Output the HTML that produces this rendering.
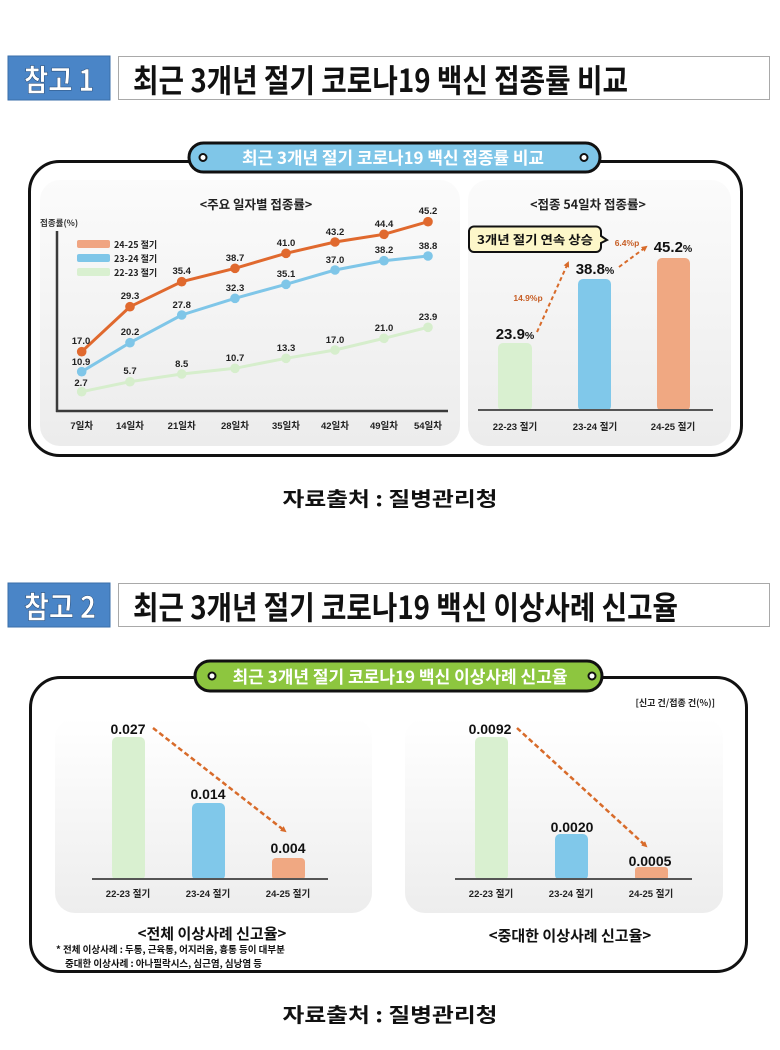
<!DOCTYPE html>
<html><head><meta charset="utf-8"><style>
html,body{margin:0;padding:0;background:#fff;}
svg{display:block;}
text{font-family:"Liberation Sans","Noto Sans CJK KR",sans-serif;}
.k{font-family:"Noto Sans CJK KR","Liberation Sans",sans-serif;}
</style></head><body>
<svg width="780" height="1050" viewBox="0 0 780 1050" xmlns="http://www.w3.org/2000/svg">
<defs>
<linearGradient id="pg" x1="0" y1="0" x2="0" y2="1">
<stop offset="0" stop-color="#fbfbfb"/><stop offset="1" stop-color="#ececec"/>
</linearGradient>
<linearGradient id="pg2" x1="0" y1="0" x2="0" y2="1">
<stop offset="0" stop-color="#ffffff"/><stop offset="1" stop-color="#ededed"/>
</linearGradient>
<marker id="ah" markerWidth="6" markerHeight="6" refX="4" refY="3" orient="auto" markerUnits="userSpaceOnUse">
<path d="M0,0 L6,3 L0,6 z" fill="#D86B2A"/>
</marker>
</defs>

<!-- ===== Section 1 header ===== -->
<rect x="8" y="56" width="102" height="44" fill="#4A85C7" stroke="#3a6ea8" stroke-width="1"/>
<text class="k" x="59" y="91" font-size="30" font-weight="bold" fill="#fff" text-anchor="middle" stroke="#2c4f7a" stroke-width="0.6" textLength="70" lengthAdjust="spacingAndGlyphs">참고 1</text>
<rect x="118.5" y="56.5" width="651" height="43" fill="#fff" stroke="#a9a9a9" stroke-width="1"/>
<text class="k" x="133" y="92" font-size="32" font-weight="bold" fill="#111" textLength="495" lengthAdjust="spacingAndGlyphs">최근 3개년 절기 코로나19 백신 접종률 비교</text>

<!-- frame 1 -->
<rect x="29.5" y="161.5" width="712" height="294" rx="30" fill="#fff" stroke="#111" stroke-width="3"/>
<rect x="40" y="180" width="420" height="266" rx="20" fill="url(#pg)"/>
<rect x="468" y="180" width="263" height="266" rx="20" fill="url(#pg)"/>

<!-- pill 1 -->
<rect x="189" y="143" width="411" height="29" rx="14.5" fill="#7FC6E8" stroke="#111" stroke-width="3"/>
<circle cx="203" cy="157.5" r="3.5" fill="#fff" stroke="#111" stroke-width="2"/>
<circle cx="584" cy="157.5" r="3.5" fill="#fff" stroke="#111" stroke-width="2"/>
<text class="k" x="393" y="164" font-size="17" font-weight="bold" fill="#fff" text-anchor="middle" textLength="302" lengthAdjust="spacingAndGlyphs">최근 3개년 절기 코로나19 백신 접종률 비교</text>

<!-- line chart -->
<text class="k" x="256" y="209" font-size="12.5" font-weight="bold" fill="#222" text-anchor="middle">&lt;주요 일자별 접종률&gt;</text>
<text class="k" x="40" y="226" font-size="8.5" font-weight="bold" fill="#333">접종률(%)</text>
<line x1="57" y1="231" x2="57" y2="412" stroke="#3a3a3a" stroke-width="2.5"/>
<line x1="56" y1="411" x2="448" y2="411" stroke="#3a3a3a" stroke-width="2.5"/>

<rect x="77" y="240" width="33" height="8" rx="2" fill="#F0A582"/>
<rect x="77" y="254" width="33" height="8" rx="2" fill="#7FC6E8"/>
<rect x="77" y="268" width="33" height="8" rx="2" fill="#D9F0D0"/>
<text class="k" x="114" y="248" font-size="9" font-weight="bold" fill="#222">24-25 절기</text>
<text class="k" x="114" y="262" font-size="9" font-weight="bold" fill="#222">23-24 절기</text>
<text class="k" x="114" y="276" font-size="9" font-weight="bold" fill="#222">22-23 절기</text>

<!-- green series -->
<polyline fill="none" stroke="#D6EECC" stroke-width="3" points="81.7,391.7 130,381.7 181.7,374 235,368.3 286,358.3 335,350 384,338.3 428,327.3"/>
<g fill="#D6EECC">
<circle cx="81.7" cy="391.7" r="4.8"/><circle cx="130" cy="381.7" r="4.8"/><circle cx="181.7" cy="374" r="4.8"/><circle cx="235" cy="368.3" r="4.8"/><circle cx="286" cy="358.3" r="4.8"/><circle cx="335" cy="350" r="4.8"/><circle cx="384" cy="338.3" r="4.8"/><circle cx="428" cy="327.3" r="4.8"/>
</g>
<!-- blue series -->
<polyline fill="none" stroke="#7FC6E8" stroke-width="3" points="81.7,371.7 130,342.7 181.7,315 235,298.3 286,284.3 335,270 384,260.7 428,256"/>
<g fill="#7FC6E8">
<circle cx="81.7" cy="371.7" r="4.8"/><circle cx="130" cy="342.7" r="4.8"/><circle cx="181.7" cy="315" r="4.8"/><circle cx="235" cy="298.3" r="4.8"/><circle cx="286" cy="284.3" r="4.8"/><circle cx="335" cy="270" r="4.8"/><circle cx="384" cy="260.7" r="4.8"/><circle cx="428" cy="256" r="4.8"/>
</g>
<!-- orange series -->
<polyline fill="none" stroke="#E0692E" stroke-width="3" points="81.7,351.7 130,306.7 181.7,281.7 235,268.3 286,253.3 335,242 384,234.3 428,221.7"/>
<g fill="#E0692E">
<circle cx="81.7" cy="351.7" r="4.8"/><circle cx="130" cy="306.7" r="4.8"/><circle cx="181.7" cy="281.7" r="4.8"/><circle cx="235" cy="268.3" r="4.8"/><circle cx="286" cy="253.3" r="4.8"/><circle cx="335" cy="242" r="4.8"/><circle cx="384" cy="234.3" r="4.8"/><circle cx="428" cy="221.7" r="4.8"/>
</g>
<g font-size="9.5" font-weight="bold" fill="#222" text-anchor="middle">
<text x="81" y="344">17.0</text><text x="130" y="299">29.3</text><text x="181.7" y="274">35.4</text><text x="235" y="261">38.7</text><text x="286" y="246">41.0</text><text x="335" y="235">43.2</text><text x="384" y="227">44.4</text><text x="428" y="214">45.2</text>
<text x="81" y="365">10.9</text><text x="130" y="335">20.2</text><text x="181.7" y="308">27.8</text><text x="235" y="291">32.3</text><text x="286" y="277">35.1</text><text x="335" y="263">37.0</text><text x="384" y="253">38.2</text><text x="428" y="249">38.8</text>
<text x="81" y="386">2.7</text><text x="130" y="374">5.7</text><text x="181.7" y="367">8.5</text><text x="235" y="361">10.7</text><text x="286" y="351">13.3</text><text x="335" y="343">17.0</text><text x="384" y="331">21.0</text><text x="428" y="320">23.9</text>
</g>
<g class="k" font-size="9.5" font-weight="bold" fill="#222" text-anchor="middle">
<text x="81.7" y="429">7일차</text><text x="130" y="429">14일차</text><text x="181.7" y="429">21일차</text><text x="235" y="429">28일차</text><text x="286" y="429">35일차</text><text x="335" y="429">42일차</text><text x="384" y="429">49일차</text><text x="428" y="429">54일차</text>
</g>

<!-- right bar chart -->
<text class="k" x="588" y="209" font-size="12.5" font-weight="bold" fill="#222" text-anchor="middle">&lt;접종 54일차 접종률&gt;</text>
<path d="M474,226.5 H596 a5,5 0 0 1 5,5 V236 L607,240 L601,243 V247 a5,5 0 0 1 -5,5 H474 a5,5 0 0 1 -5,-5 V231.5 a5,5 0 0 1 5,-5 z" fill="#FDF7C9" stroke="#111" stroke-width="2"/>
<text class="k" x="535" y="244" font-size="12" font-weight="bold" fill="#111" text-anchor="middle" textLength="116" lengthAdjust="spacingAndGlyphs">3개년 절기 연속 상승</text>

<rect x="498" y="343" width="34" height="68" rx="5" fill="#D9F0D0"/>
<rect x="578" y="279" width="33" height="132" rx="5" fill="#80C8EA"/>
<rect x="657" y="258" width="33" height="153" rx="5" fill="#F0A882"/>
<line x1="478" y1="410" x2="713" y2="410" stroke="#555" stroke-width="2"/>

<text x="515" y="339" font-size="15" font-weight="bold" fill="#111" text-anchor="middle">23.9<tspan font-size="10.5">%</tspan></text>
<text x="595" y="274" font-size="15" font-weight="bold" fill="#111" text-anchor="middle">38.8<tspan font-size="10.5">%</tspan></text>
<text x="673" y="252" font-size="15" font-weight="bold" fill="#111" text-anchor="middle">45.2<tspan font-size="10.5">%</tspan></text>

<line x1="537" y1="332" x2="568" y2="263" stroke="#D86B2A" stroke-width="2" stroke-dasharray="4,3" marker-end="url(#ah)"/>
<line x1="619" y1="267" x2="646" y2="247" stroke="#D86B2A" stroke-width="2" stroke-dasharray="4,3" marker-end="url(#ah)"/>
<text x="528" y="301" font-size="8.5" font-weight="bold" fill="#C75E25" text-anchor="middle">14.9%p</text>
<text x="627" y="246" font-size="8.5" font-weight="bold" fill="#C75E25" text-anchor="middle">6.4%p</text>

<g class="k" font-size="9.5" font-weight="bold" fill="#222" text-anchor="middle">
<text x="515" y="430">22-23 절기</text><text x="595" y="430">23-24 절기</text><text x="673" y="430">24-25 절기</text>
</g>

<text class="k" x="390" y="506" font-size="20" font-weight="bold" fill="#111" text-anchor="middle" textLength="215" lengthAdjust="spacingAndGlyphs">자료출처 : 질병관리청</text>

<!-- ===== Section 2 header ===== -->
<rect x="8" y="583" width="102" height="44" fill="#4A85C7" stroke="#3a6ea8" stroke-width="1"/>
<text class="k" x="60" y="618" font-size="30" font-weight="bold" fill="#fff" text-anchor="middle" stroke="#2c4f7a" stroke-width="0.6" textLength="72" lengthAdjust="spacingAndGlyphs">참고 2</text>
<rect x="118.5" y="583.5" width="651" height="43" fill="#fff" stroke="#a9a9a9" stroke-width="1"/>
<text class="k" x="133" y="619" font-size="32" font-weight="bold" fill="#111" textLength="545" lengthAdjust="spacingAndGlyphs">최근 3개년 절기 코로나19 백신 이상사례 신고율</text>

<!-- frame 2 -->
<rect x="30.5" y="677.5" width="716" height="294" rx="30" fill="#fff" stroke="#111" stroke-width="3"/>
<rect x="55" y="718" width="317" height="195" rx="20" fill="url(#pg2)"/>
<rect x="405" y="718" width="318" height="195" rx="20" fill="url(#pg2)"/>

<rect x="195" y="661" width="407" height="30" rx="15" fill="#8DC63F" stroke="#111" stroke-width="3"/>
<circle cx="212" cy="676" r="3.5" fill="#fff" stroke="#111" stroke-width="2"/>
<circle cx="592" cy="676" r="3.5" fill="#fff" stroke="#111" stroke-width="2"/>
<text class="k" x="400" y="683" font-size="17" font-weight="bold" fill="#fff" text-anchor="middle" textLength="335" lengthAdjust="spacingAndGlyphs">최근 3개년 절기 코로나19 백신 이상사례 신고율</text>

<text class="k" x="715" y="706" font-size="9" font-weight="bold" fill="#222" text-anchor="end">[신고 건/접종 건(%)]</text>

<!-- left bars -->
<rect x="112" y="737" width="33" height="143" rx="5" fill="#D9F0D0"/>
<rect x="192" y="803" width="33" height="77" rx="5" fill="#80C8EA"/>
<rect x="272" y="858" width="33" height="22" rx="4" fill="#F0A882"/>
<line x1="92" y1="879" x2="328" y2="879" stroke="#555" stroke-width="2"/>
<g font-size="14" font-weight="bold" fill="#111" text-anchor="middle">
<text x="128" y="734">0.027</text><text x="208" y="799">0.014</text><text x="288" y="853">0.004</text>
</g>
<line x1="153" y1="728" x2="285" y2="831" stroke="#D86B2A" stroke-width="2.5" stroke-dasharray="5,3" marker-end="url(#ah)"/>
<g class="k" font-size="9.5" font-weight="bold" fill="#222" text-anchor="middle">
<text x="128" y="897">22-23 절기</text><text x="208" y="897">23-24 절기</text><text x="288" y="897">24-25 절기</text>
</g>
<text class="k" x="212" y="939" font-size="15" font-weight="bold" fill="#111" text-anchor="middle">&lt;전체 이상사례 신고율&gt;</text>
<text class="k" x="56" y="953" font-size="9.5" font-weight="bold" fill="#111">* 전체 이상사례 : 두통, 근육통, 어지러움, 흉통 등이 대부분</text>
<text class="k" x="65" y="967" font-size="9.5" font-weight="bold" fill="#111">중대한 이상사례 : 아나필락시스, 심근염, 심낭염 등</text>

<!-- right bars -->
<rect x="475" y="737" width="33" height="143" rx="5" fill="#D9F0D0"/>
<rect x="555" y="834" width="33" height="46" rx="5" fill="#80C8EA"/>
<rect x="635" y="867" width="33" height="13" rx="3" fill="#F0A882"/>
<line x1="455" y1="879" x2="692" y2="879" stroke="#555" stroke-width="2"/>
<g font-size="14" font-weight="bold" fill="#111" text-anchor="middle">
<text x="490" y="734">0.0092</text><text x="572" y="832">0.0020</text><text x="650" y="866">0.0005</text>
</g>
<line x1="517" y1="728" x2="646" y2="846" stroke="#D86B2A" stroke-width="2.5" stroke-dasharray="5,3" marker-end="url(#ah)"/>
<g class="k" font-size="9.5" font-weight="bold" fill="#222" text-anchor="middle">
<text x="491" y="897">22-23 절기</text><text x="571" y="897">23-24 절기</text><text x="651" y="897">24-25 절기</text>
</g>
<text class="k" x="570" y="941" font-size="15" font-weight="bold" fill="#111" text-anchor="middle">&lt;중대한 이상사례 신고율&gt;</text>

<text class="k" x="390" y="1022" font-size="20" font-weight="bold" fill="#111" text-anchor="middle" textLength="215" lengthAdjust="spacingAndGlyphs">자료출처 : 질병관리청</text>
</svg>
</body></html>
